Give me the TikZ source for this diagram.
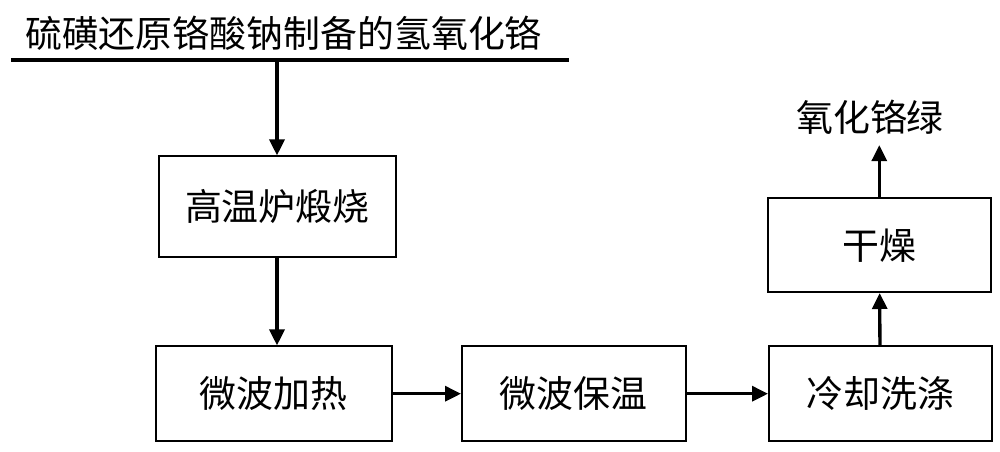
\documentclass[tikz,border=0pt]{standalone}
\usepackage{fontspec}
\newfontfamily\cjk{Noto Sans CJK SC}
\usetikzlibrary{positioning,arrows.meta,calc}

\begin{document}
\begin{tikzpicture}[
    >={Triangle[length=0.32cm,width=0.3cm]},
    stepbox/.style={draw, line width=0.9pt, minimum width=4.6cm, minimum height=1.9cm, anchor=south west, align=center, font=\cjk\fontsize{21}{25}\selectfont},
    flow/.style={->, line width=1.9pt},
    label/.style={font=\cjk\fontsize{21}{25}\selectfont}
  ]
    \useasboundingbox (0,0) rectangle (20,-9.02);

    %coordinates
    \coordinate (L0) at (0.22,-1.2);
    \coordinate (L1) at (11.38,-1.2);
    \coordinate (L2) at (5.54,-1.2);

    \coordinate (HF)  at (3.16,-5.16);
    \coordinate (MH)  at (3.10,-8.84);
    \coordinate (MK)  at (9.22,-8.84);
    \coordinate (CW)  at (15.36,-8.84);
    \coordinate (DR)  at (15.34,-5.86);

    %nodes
    \node[label] (src) at (5.67,-0.66) {硫磺还原铬酸钠制备的氢氧化铬};
    \node[stepbox, minimum width=4.74cm, minimum height=2.02cm] (A) at (HF) {高温炉煅烧};
    \node[stepbox, minimum width=4.72cm] (B) at (MH) {微波加热};
    \node[stepbox, minimum width=4.48cm] (C) at (MK) {微波保温};
    \node[stepbox, minimum width=4.46cm] (D) at (CW) {冷却洗涤};
    \node[stepbox, minimum width=4.46cm, minimum height=1.88cm] (E) at (DR) {干燥};
    \node[label, inner sep=6pt] (out) at (17.4,-2.34) {氧化铬绿};

    %edges
    \draw[line width=1.9pt] (L0) -- (L1);
    \draw[flow] (L2) -- (L2 |- A.north);
    \draw[flow] (L2 |- A.south) -- (L2 |- B.north);
    \draw[flow] (B) -- (C);
    \draw[flow] (C) -- (D);
    \draw[flow] (D) -- (E);
    \draw[flow] (E.north) -- (E.north |- out.south);
\end{tikzpicture}
\end{document}
